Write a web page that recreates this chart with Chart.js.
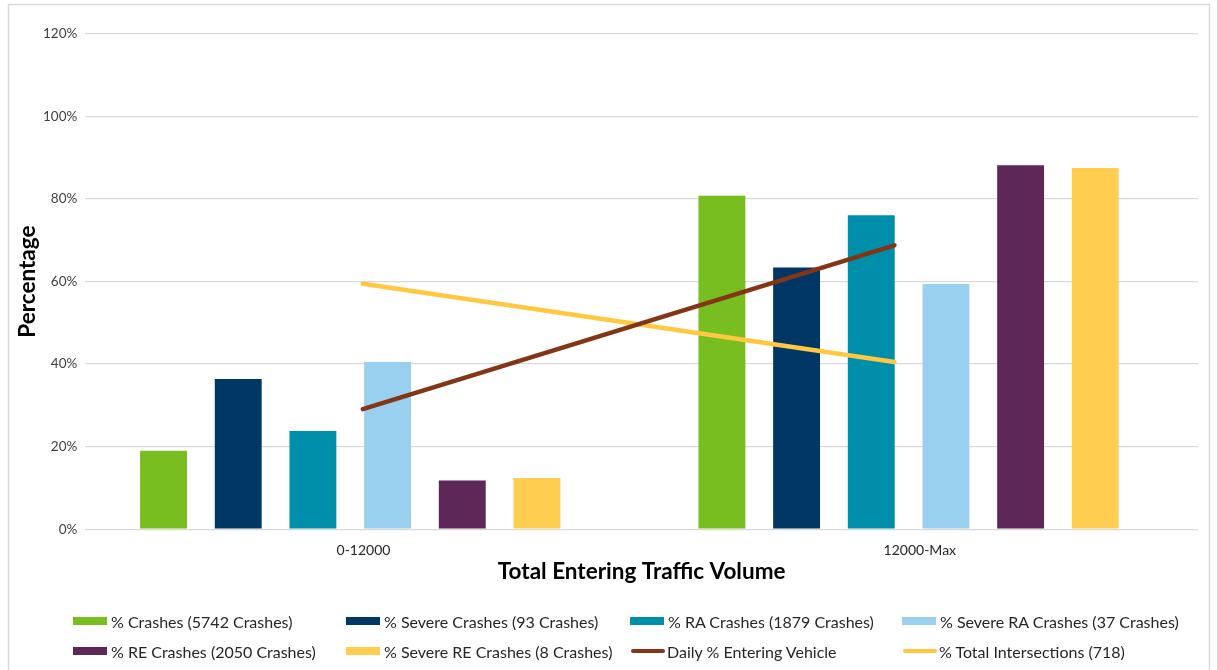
<!DOCTYPE html>
<html>
<head>
<meta charset="utf-8">
<script src="https://cdn.jsdelivr.net/npm/chart.js@4"></script>
<style>
  html, body { margin: 0; padding: 0; background: #fff; }
  #wrap { position: relative; width: 1217px; height: 670px; overflow: hidden; }
  #legend { position: absolute; left: 0; top: 0; width: 1217px; height: 670px; pointer-events: none;
            font-family: Lato, "Open Sans", sans-serif; font-size: 16px; color: #262626; }
  .item { position: absolute; display: flex; align-items: center; white-space: nowrap; height: 20px; }
  .swatch { width: 34px; height: 8px; margin-right: 4px; }
  .swatch.line { height: 4px; border-radius: 2px; margin-left: 1px; margin-right: 2px; }
</style>
</head>
<body>
<div id="wrap">
  <canvas id="crashChart" width="1217" height="670"></canvas>
  <div id="legend"></div>
</div>
<script>
const categories = ['0-12000', '12000-Max'];
const categoryIndex = [0, 1];

const barNames = [
    '% Crashes (5742 Crashes)',
    '% Severe Crashes (93 Crashes)',
    '% RA Crashes (1879 Crashes)',
    '% Severe RA Crashes (37 Crashes)',
    '% RE Crashes (2050 Crashes)',
    '% Severe RE Crashes (8 Crashes)'
];
const crashes = [19.0, 80.8];
const severeCrashes = [36.4, 63.4];
const raCrashes = [23.8, 76.1];
const severeRaCrashes = [40.5, 59.4];
const reCrashes = [11.8, 88.2];
const severeReCrashes = [12.4, 87.5];

const lineNames = ['Daily % Entering Vehicle', '% Total Intersections (718)'];
const enteringVehicle = [29.1, 68.8];
const totalIntersections = [59.5, 40.5];

const yTicks = [0, 20, 40, 60, 80, 100, 120];

const barColors = ['#78be21', '#003764', '#008fab', '#9ad0ef', '#5d2758', '#ffcd50'];
const lineColors = ['#843515', '#ffc840'];

const barSeries = [crashes, severeCrashes, raCrashes, severeRaCrashes, reCrashes, severeReCrashes];
const lineSeries = [enteringVehicle, totalIntersections];

const font = 'Lato, "Open Sans", sans-serif';

const toPoints = values => values.map((v, j) => ({ x: categoryIndex[j], y: v }));

const datasets = barSeries.map((values, i) => ({
    type: 'bar',
    indexAxis: 'x',
    label: barNames[i],
    data: toPoints(values),
    xAxisID: 'xBar',
    backgroundColor: barColors[i],
    borderWidth: 0,
    categoryPercentage: 0.8025,
    barPercentage: 0.628
}));

lineSeries.forEach((values, i) => {
    datasets.push({
        type: 'line',
        indexAxis: 'x',
        label: lineNames[i],
        data: toPoints(values),
        xAxisID: 'xLine',
        borderColor: lineColors[i],
        backgroundColor: lineColors[i],
        borderWidth: 4.5,
        borderCapStyle: 'round',
        pointRadius: 0,
        order: -1
    });
});

// light grey frame round the whole chart
const framePlugin = {
    id: 'frame',
    beforeDraw(chart) {
        const ctx = chart.ctx;
        ctx.save();
        ctx.fillStyle = '#fff';
        ctx.fillRect(0, 0, chart.width, chart.height);
        ctx.strokeStyle = '#d9d9d9';
        ctx.lineWidth = 1.5;
        ctx.strokeRect(8.5, 4.5, 1201, 700);
        ctx.restore();
    }
};

// legend laid out as a 4-column grid like the original
const legendCols = [73, 346, 630, 902];
const legendRows = [621, 651];
const htmlLegend = {
    id: 'htmlLegend',
    afterUpdate(chart) {
        const box = document.getElementById('legend');
        box.innerHTML = '';
        chart.data.datasets.forEach((ds, i) => {
            const item = document.createElement('div');
            item.className = 'item';
            item.style.left = legendCols[i % 4] + 'px';
            item.style.top = (legendRows[Math.floor(i / 4)] - 10) + 'px';
            const sw = document.createElement('span');
            sw.className = ds.type === 'line' ? 'swatch line' : 'swatch';
            sw.style.background = ds.type === 'line' ? ds.borderColor : ds.backgroundColor;
            const txt = document.createElement('span');
            txt.textContent = ds.label;
            item.appendChild(sw);
            item.appendChild(txt);
            box.appendChild(item);
        });
    }
};

new Chart(document.getElementById('crashChart').getContext('2d'), {
    data: {
        labels: categories,
        datasets: datasets
    },
    options: {
        indexAxis: 'y',
        responsive: false,
        animation: false,
        layout: {
            padding: { left: 14, right: 19, top: 34, bottom: 85 }
        },
        plugins: {
            legend: { display: false },
            tooltip: { enabled: false }
        },
        scales: {
            x: {
                type: 'category',
                offset: true,
                grid: { display: false, drawTicks: false },
                border: { display: false },
                ticks: {
                    color: '#262626',
                    font: { family: font, size: 14 },
                    padding: 13
                },
                title: {
                    display: true,
                    text: 'Total Entering Traffic Volume',
                    color: '#000',
                    font: { family: font, size: 22.5, weight: 'bold' },
                    padding: { top: -14, bottom: 0 }
                }
            },
            xBar: {
                type: 'linear',
                display: false,
                offset: false,
                min: -0.4745,
                max: 1.5183,
                afterBuildTicks(scale) {
                    scale.ticks = categoryIndex.map(v => ({ value: v }));
                }
            },
            xLine: {
                type: 'linear',
                display: false,
                offset: false,
                min: -0.522,
                max: 1.571
            },
            y: {
                type: 'linear',
                min: 0,
                max: 120,
                afterBuildTicks(scale) {
                    scale.ticks = yTicks.map(v => ({ value: v }));
                },
                grid: { color: '#d9d9d9', lineWidth: 1.3, drawTicks: false },
                border: { display: false },
                ticks: {
                    color: '#404040',
                    font: { family: font, size: 13.5 },
                    padding: 8,
                    callback: v => v + '%'
                },
                title: {
                    display: true,
                    text: 'Percentage',
                    color: '#000',
                    font: { family: font, size: 22.5, weight: 'bold' },
                    padding: { top: 0, bottom: -6 }
                }
            }
        }
    },
    plugins: [framePlugin, htmlLegend]
});
</script>
</body>
</html>
